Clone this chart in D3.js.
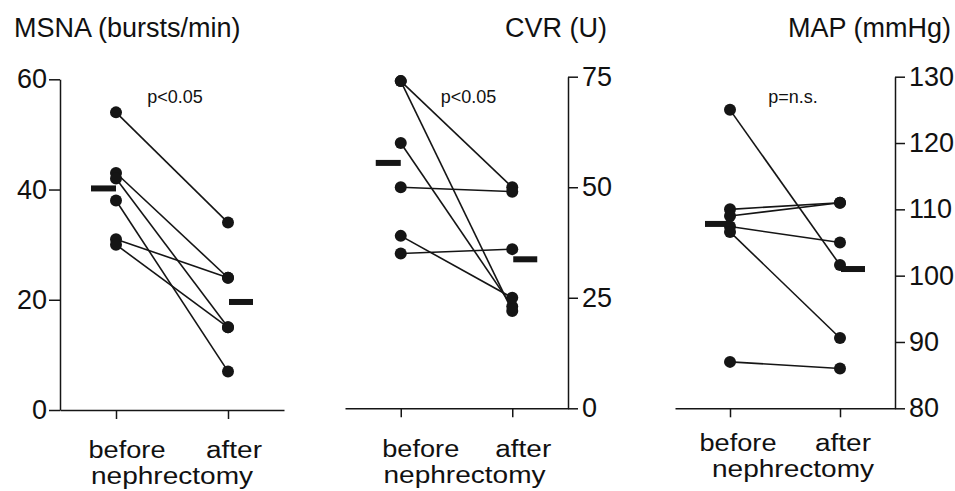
<!DOCTYPE html>
<html><head><meta charset="utf-8">
<script src="https://cdn.jsdelivr.net/npm/d3@7"></script>
<style>body{margin:0;background:#fff} svg text{font-family:"Liberation Sans",Arial,Helvetica,sans-serif;fill:#111}</style>
</head><body><svg id="c" width="955" height="491"></svg>
<script>
// ---- data ----
const groups = ["before", "after"];
const msnaBefore = [54, 43, 42, 38, 31, 30];
const msnaAfter  = [34, 24, 15, 7, 24, 15];
const msnaMean   = [40.2, 19.6];
const msnaTicks  = [0, 20, 40, 60];

const cvrBefore = [74, 74, 60, 50, 39, 35];
const cvrAfter  = [50, 22, 23, 49, 25, 36];
const cvrMean   = [55.5, 33.7];
const cvrTicks  = [0, 25, 50, 75];

const mapBefore = [125, 110, 109, 107.4, 106.6, 87];
const mapAfter  = [101.6, 111, 111, 105, 90.6, 86];
const mapMean   = [107.8, 101];
const mapTicks  = [80, 90, 100, 110, 120, 130];

const titles  = ["MSNA (bursts/min)", "CVR (U)", "MAP (mmHg)"];
const pLabels = ["p<0.05", "p<0.05", "p=n.s."];
const xTitle  = "nephrectomy";

// ---- layout ----
const panels = [
  {before: msnaBefore, after: msnaAfter, mean: msnaMean, ticks: msnaTicks, domain: [0, 60],
   title: titles[0], p: pLabels[0], side: "left", xr: [60, 284], yr: [410, 79.3],
   titleX: 14, titleAnchor: "start", lab: [11, 6, 0], pOff: 3, labY: [458, 484]},
  {before: cvrBefore, after: cvrAfter, mean: cvrMean, ticks: cvrTicks, domain: [0, 75],
   title: titles[1], p: pLabels[1], side: "right", xr: [345, 568], yr: [408.3, 76.7],
   titleX: 607, titleAnchor: "end", lab: [20, 11, 8], pOff: 12, labY: [457, 483]},
  {before: mapBefore, after: mapAfter, mean: mapMean, ticks: mapTicks, domain: [80, 130],
   title: titles[2], p: pLabels[2], side: "right", xr: [675, 895], yr: [408.3, 76.7],
   titleX: 951, titleAnchor: "end", lab: [8, 3, 8], pOff: 8, labY: [451, 477]}
];

const svg = d3.select("#c");
const ink = "#151515";

function label(g, x, y, txt, len) {
  g.append("text").attr("x", x).attr("y", y).attr("text-anchor", "middle")
    .style("font-size", "23px").attr("textLength", len).attr("lengthAdjust", "spacingAndGlyphs")
    .text(txt);
}

panels.forEach(P => {
  const g = svg.append("g");
  const x = d3.scalePoint().domain(groups).range(P.xr).padding(0.5);
  const y = d3.scaleLinear().domain(P.domain).range(P.yr);

  // axes
  const xa = g.append("g").attr("transform", `translate(0,${P.yr[0]})`)
    .call(d3.axisBottom(x).tickSize(9).tickSizeOuter(0).tickFormat(""));
  const axisX = P.side === "left" ? P.xr[0] : P.xr[1];
  const yAxis = P.side === "left"
    ? d3.axisLeft(y).tickValues(P.ticks).tickSize(11).tickPadding(2).tickSizeOuter(0)
    : d3.axisRight(y).tickValues(P.ticks).tickSize(10).tickPadding(4).tickSizeOuter(0);
  const ya = g.append("g").attr("transform", `translate(${axisX},0)`).call(yAxis);
  [xa, ya].forEach(a => {
    a.selectAll("path,line").attr("stroke", ink).attr("stroke-width", 1.5);
    a.selectAll("text").style("font-size", "27px").attr("fill", ink);
  });

  // connecting lines
  P.before.forEach((b, i) => {
    g.append("line")
      .attr("x1", x("before")).attr("y1", y(b))
      .attr("x2", x("after")).attr("y2", y(P.after[i]))
      .attr("stroke", ink).attr("stroke-width", 1.6);
  });
  // dots
  const pts = P.before.map(v => ["before", v]).concat(P.after.map(v => ["after", v]));
  g.selectAll("circle").data(pts).join("circle")
    .attr("cx", d => x(d[0])).attr("cy", d => y(d[1])).attr("r", 6).attr("fill", ink);

  // mean bars
  g.append("rect").attr("x", x("before") - 25).attr("y", y(P.mean[0]) - 3)
    .attr("width", 25).attr("height", 6).attr("fill", ink);
  g.append("rect").attr("x", x("after") + 1).attr("y", y(P.mean[1]) - 3)
    .attr("width", 24).attr("height", 6).attr("fill", ink);

  // titles and labels
  g.append("text").attr("x", P.titleX).attr("y", 37).attr("text-anchor", P.titleAnchor)
    .style("font-size", "27px").text(P.title);
  const mid = (x("before") + x("after")) / 2;
  g.append("text").attr("x", mid + P.pOff).attr("y", 103).attr("text-anchor", "middle")
    .style("font-size", "18px").text(P.p);
  label(g, x("before") + P.lab[0], P.labY[0], groups[0], 77);
  label(g, x("after") + P.lab[1], P.labY[0], groups[1], 56);
  label(g, mid + P.lab[2], P.labY[1], xTitle, 162);
});
</script></body></html>
